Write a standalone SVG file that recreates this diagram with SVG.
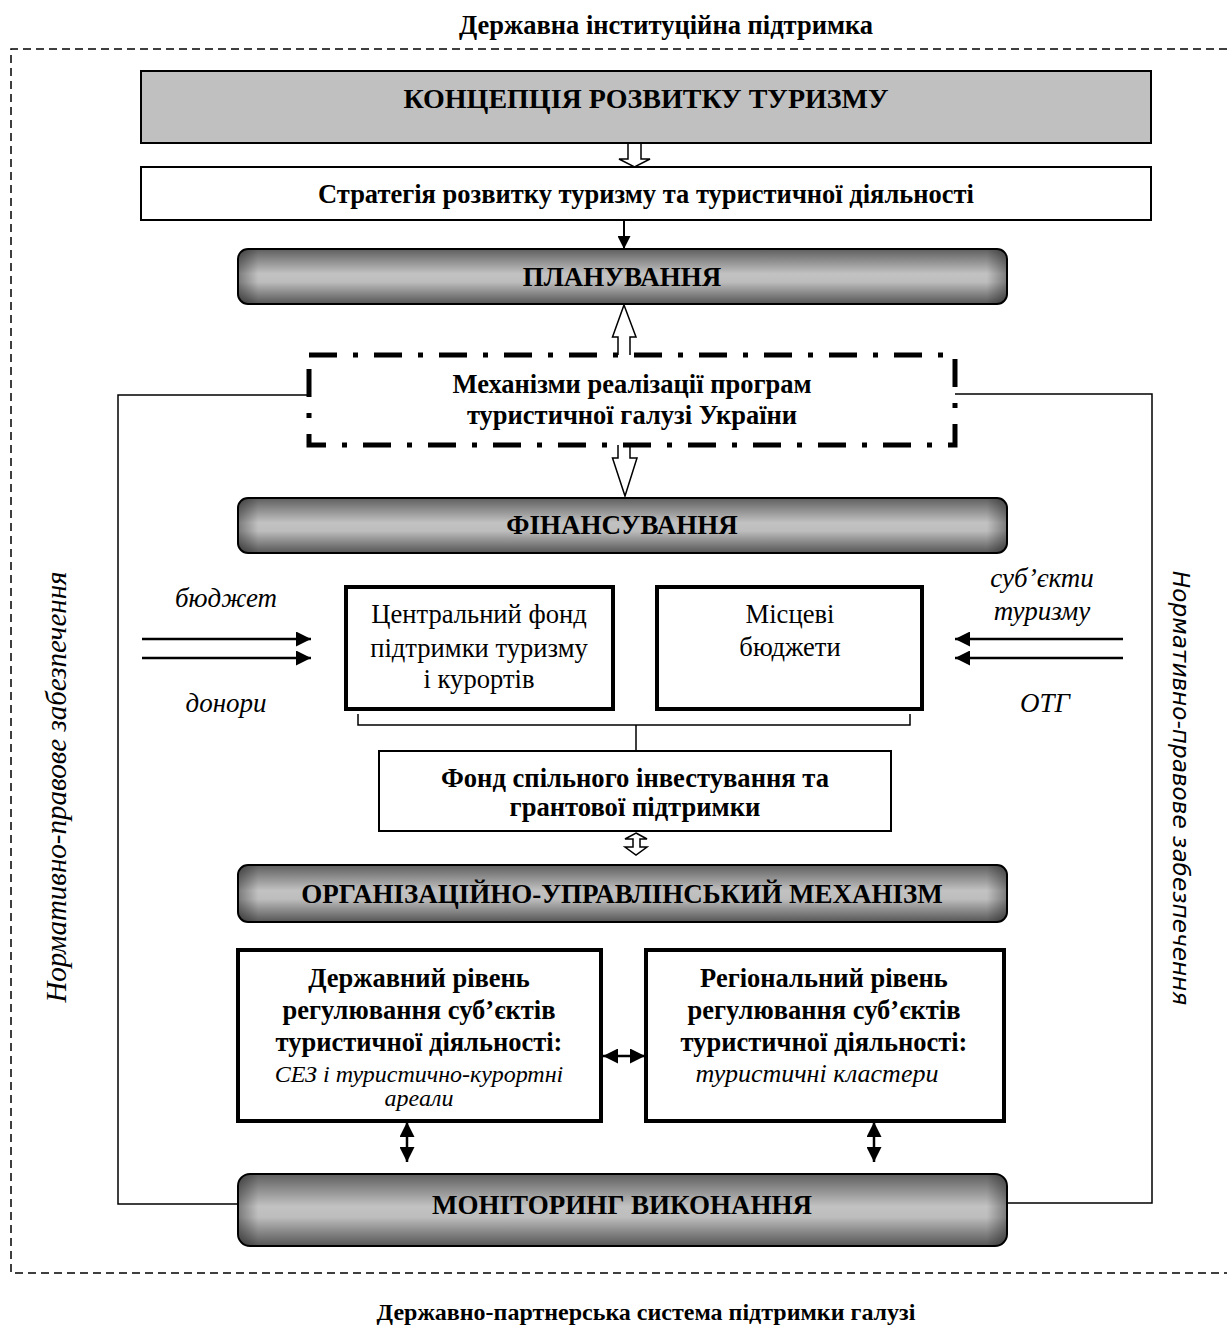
<svg xmlns="http://www.w3.org/2000/svg" width="1227" height="1329" viewBox="0 0 1227 1329">
<defs>
<linearGradient id="cyl" x1="0" y1="0" x2="0" y2="1">
<stop offset="0" stop-color="#5e5e5e"/>
<stop offset="0.45" stop-color="#c2c2c2"/>
<stop offset="0.6" stop-color="#bdbdbd"/>
<stop offset="1" stop-color="#555555"/>
</linearGradient>
<linearGradient id="ends" x1="0" y1="0" x2="1" y2="0">
<stop offset="0" stop-color="#000" stop-opacity="0.35"/>
<stop offset="0.025" stop-color="#000" stop-opacity="0"/>
<stop offset="0.975" stop-color="#000" stop-opacity="0"/>
<stop offset="1" stop-color="#000" stop-opacity="0.35"/>
</linearGradient>
<marker id="ah" viewBox="0 0 10 10" refX="10" refY="5" markerWidth="16" markerHeight="15" markerUnits="userSpaceOnUse" orient="auto-start-reverse">
<path d="M0,0 L10,5 L0,10 Z" fill="#000"/>
</marker>
<marker id="ahs" viewBox="0 0 10 10" refX="10" refY="5" markerWidth="18" markerHeight="13" markerUnits="userSpaceOnUse" orient="auto-start-reverse">
<path d="M0,0 L10,5 L0,10 Z" fill="#000"/>
</marker>
</defs>
<style>
text{font-family:"Liberation Serif","Times New Roman",serif;fill:#000}
.b{font-weight:bold;text-anchor:middle}
.r{text-anchor:middle}
.i{font-style:italic;text-anchor:middle}
.cyl{fill:url(#cyl);stroke:#000;stroke-width:2}
.ends{fill:url(#ends);stroke:none}
.box{fill:#fff;stroke:#000;stroke-width:2}
.tbox{fill:#fff;stroke:#000;stroke-width:4}
.dash{fill:none;stroke:#000;stroke-width:1.5;stroke-dasharray:8 5}
.thin{fill:none;stroke:#000;stroke-width:1.5}
.arr{fill:none;stroke:#000;stroke-width:2.5}
.hollow{fill:#fff;stroke:#000;stroke-width:1.5;stroke-linejoin:miter}
</style>
<rect width="1227" height="1329" fill="#fff"/>

<g id="frame">
<path class="dash" d="M1227,49 H11 V1273 H1227"/>
<text class="b" x="666" y="34" font-size="26.5">Державна інституційна підтримка</text>
<text class="b" x="646" y="1320" font-size="24">Державно-партнерська система підтримки галузі</text>
<text class="i" font-size="29" transform="translate(66,787) rotate(-90)">Нормативно-правове забезпечення</text>
<text font-size="23.2" style="font-family:'DejaVu Sans',Verdana,sans-serif;font-style:italic;text-anchor:middle" transform="translate(1173,788) rotate(90)">Нормативно-правове забезпечення</text>
</g>

<g id="connectors">
<path class="thin" d="M309,395 H118 V1204 H238"/>
<path class="thin" d="M955,394 H1152 V1203 H1007"/>
<polygon class="hollow" points="628,143 628,159 619,159 634.5,167 650,159 641,159 641,143"/>
<line class="arr" x1="624" y1="220" x2="624" y2="249" marker-end="url(#ahs)" style="stroke-width:2"/>
<polygon class="hollow" points="624,305 636,337 630,337 630,356 618,356 618,337 612.5,337"/>
<polygon class="hollow" points="618,443 618,458 612.5,458 625,496 637,458 630,458 630,443"/>
<line class="arr" x1="142" y1="639" x2="311" y2="639" marker-end="url(#ah)"/>
<line class="arr" x1="142" y1="658" x2="311" y2="658" marker-end="url(#ah)"/>
<line class="arr" x1="1123" y1="639" x2="955" y2="639" marker-end="url(#ah)"/>
<line class="arr" x1="1123" y1="658" x2="955" y2="658" marker-end="url(#ah)"/>
<path class="thin" d="M358,714 V725 H910 V714 M636,725 V751"/>
<polygon class="hollow" points="636,833 647,839 640,839 640,847 647,847 636,855 625,847 633,847 633,839 625,839"/>
<line class="arr" x1="603" y1="1056" x2="645" y2="1056" marker-start="url(#ah)" marker-end="url(#ah)"/>
<line class="arr" x1="407" y1="1122" x2="407" y2="1162" marker-start="url(#ah)" marker-end="url(#ah)"/>
<line class="arr" x1="874" y1="1122" x2="874" y2="1162" marker-start="url(#ah)" marker-end="url(#ah)"/>
</g>

<g id="koncepciya">
<rect x="141" y="71" width="1010" height="72" fill="#c0c0c0" stroke="#000" stroke-width="2"/>
<text class="b" x="646" y="108" font-size="28">КОНЦЕПЦІЯ РОЗВИТКУ ТУРИЗМУ</text>
</g>

<g id="strategiya">
<rect class="box" x="141" y="167" width="1010" height="53"/>
<text class="b" x="646" y="203" font-size="26.5">Стратегія розвитку туризму та туристичної діяльності</text>
</g>

<g id="planuvannya">
<rect class="cyl" x="238" y="249" width="769" height="55" rx="10"/>
<rect class="ends" x="239" y="250" width="767" height="53" rx="9"/>
<text class="b" x="622" y="286" font-size="27">ПЛАНУВАННЯ</text>
</g>

<g id="mekhanizmy">
<rect x="309" y="355" width="646" height="90" fill="#fff" stroke="#000" stroke-width="5" stroke-dasharray="28 16 5 16"/>
<text class="b" x="632" y="393" font-size="26.5">Механізми реалізації програм</text>
<text class="b" x="632" y="424" font-size="26.5">туристичної галузі України</text>
</g>

<g id="finansuvannya">
<rect class="cyl" x="238" y="498" width="769" height="55" rx="10"/>
<rect class="ends" x="239" y="499" width="767" height="53" rx="9"/>
<text class="b" x="622" y="534" font-size="27">ФІНАНСУВАННЯ</text>
</g>

<g id="flow-labels">
<text class="i" x="226" y="607" font-size="27">бюджет</text>
<text class="i" x="226" y="712" font-size="27">донори</text>
<text class="i" x="1042" y="587" font-size="27">суб’єкти</text>
<text class="i" x="1042" y="620" font-size="27">туризму</text>
<text class="i" x="1045" y="712" font-size="27">ОТГ</text>
</g>

<g id="centralnyi-fond">
<rect class="tbox" x="346" y="587" width="267" height="122"/>
<text class="r" x="479" y="623" font-size="26.6">Центральний фонд</text>
<text class="r" x="479" y="657" font-size="26.6">підтримки туризму</text>
<text class="r" x="479" y="688" font-size="26.6">і курортів</text>
</g>

<g id="mistsevi-byudzhety">
<rect class="tbox" x="657" y="587" width="265" height="122"/>
<text class="r" x="790" y="623" font-size="26.6">Місцеві</text>
<text class="r" x="790" y="656" font-size="26.6">бюджети</text>
</g>

<g id="fond-spilnogo">
<rect class="box" x="379" y="751" width="512" height="80"/>
<text class="b" x="635" y="787" font-size="26.6">Фонд спільного інвестування та</text>
<text class="b" x="635" y="816" font-size="26.6">грантової підтримки</text>
</g>

<g id="org-mekhanizm">
<rect class="cyl" x="238" y="865" width="769" height="57" rx="10"/>
<rect class="ends" x="239" y="866" width="767" height="55" rx="9"/>
<text class="b" x="622" y="903" font-size="27">ОРГАНІЗАЦІЙНО-УПРАВЛІНСЬКИЙ МЕХАНІЗМ</text>
</g>

<g id="derzhavnyi-riven">
<rect class="tbox" x="238" y="950" width="363" height="171"/>
<text class="b" x="419" y="987" font-size="26.5">Державний рівень</text>
<text class="b" x="419" y="1019" font-size="26.5">регулювання суб’єктів</text>
<text class="b" x="419" y="1051" font-size="26.5">туристичної діяльності:</text>
<text class="i" x="419" y="1082" font-size="24">СЕЗ і туристично-курортні</text>
<text class="i" x="419" y="1106" font-size="24">ареали</text>
</g>

<g id="regionalnyi-riven">
<rect class="tbox" x="646" y="950" width="358" height="171"/>
<text class="b" x="824" y="987" font-size="26.5">Регіональний рівень</text>
<text class="b" x="824" y="1019" font-size="26.5">регулювання суб’єктів</text>
<text class="b" x="824" y="1051" font-size="26.5">туристичної діяльності:</text>
<text class="i" x="817" y="1082" font-size="26">туристичні кластери</text>
</g>

<g id="monitoryng">
<rect class="cyl" x="238" y="1174" width="769" height="72" rx="12"/>
<rect class="ends" x="239" y="1175" width="767" height="70" rx="11"/>
<text class="b" x="622" y="1214" font-size="27">МОНІТОРИНГ ВИКОНАННЯ</text>
</g>
</svg>
